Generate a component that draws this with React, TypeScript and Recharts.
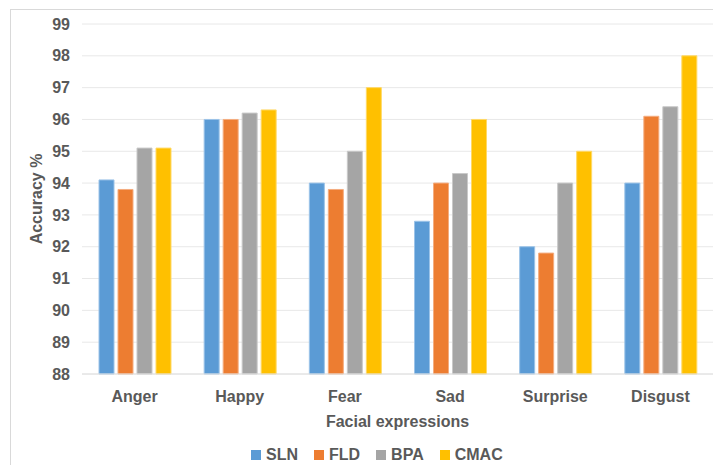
import React from 'react';
import { BarChart, Bar, XAxis, YAxis, CartesianGrid, Legend } from 'recharts';

const categories = ['Anger', 'Happy', 'Fear', 'Sad', 'Surprise', 'Disgust'];
const slnValues = [94.1, 96.0, 94.0, 92.8, 92.0, 94.0];
const fldValues = [93.8, 96.0, 93.8, 94.0, 91.8, 96.1];
const bpaValues = [95.1, 96.2, 95.0, 94.3, 94.0, 96.4];
const cmacValues = [95.1, 96.3, 97.0, 96.0, 95.0, 98.0];
const yTicks = [88, 89, 90, 91, 92, 93, 94, 95, 96, 97, 98, 99];

const seriesNames = ['SLN', 'FLD', 'BPA', 'CMAC'];
const seriesColors = ['#5B9BD5', '#ED7D31', '#A5A5A5', '#FFC000'];
const seriesStrokes = ['#9cc3e8', '#f4ad80', '#c9c9c9', '#ffd966'];

const data = categories.map((name, i) => ({
  name,
  SLN: slnValues[i],
  FLD: fldValues[i],
  BPA: bpaValues[i],
  CMAC: cmacValues[i],
}));

const FONT = '"Liberation Sans", Arial, sans-serif';
const TEXT = '#595959';

const renderLegend = () => (
  <div style={{ height: 30, boxSizing: 'border-box', paddingTop: 9, paddingLeft: 251, display: 'flex', alignItems: 'center', fontFamily: FONT, fontSize: 16, fontWeight: 700, color: TEXT, lineHeight: '18px' }}>
    {seriesNames.map((n, i) => (
      <div key={n} style={{ display: 'flex', alignItems: 'center', marginRight: 16 }}>
        <span style={{ display: 'inline-block', width: 10, height: 10, background: seriesColors[i], marginRight: 5 }} />
        <span>{n}</span>
      </div>
    ))}
  </div>
);

export default function App() {
  return (
    <div style={{ position: 'fixed', left: 0, top: 0, width: 713, height: 465, overflow: 'hidden', background: '#fff' }}>
      <div style={{ position: 'absolute', left: 10, top: 9, width: 900, height: 700, border: '1px solid #d9d9d9' }} />
      <div style={{ position: 'absolute', left: 0, top: 0 }}>
        <BarChart
          width={713}
          height={465}
          data={data}
          margin={{ top: 24, right: 0, left: 0, bottom: 0 }}
          barSize={15}
          barGap={4}
        >
          <CartesianGrid vertical={false} stroke="#e8e8e8" strokeWidth={1} />
          <XAxis
            dataKey="name"
            height={61}
            tickLine={false}
            axisLine={{ stroke: '#e0e0e0' }}
            tickMargin={11}
            tick={{ fill: TEXT, fontSize: 16, fontWeight: 700, fontFamily: FONT }}
            label={{ value: 'Facial expressions', position: 'insideBottom', offset: 8, fill: TEXT, fontSize: 16, fontWeight: 700, fontFamily: FONT }}
          />
          <YAxis
            width={82}
            domain={[88, 99]}
            ticks={yTicks}
            interval={0}
            tickLine={false}
            axisLine={false}
            tickMargin={6}
            tick={{ fill: TEXT, fontSize: 16, fontWeight: 700, fontFamily: FONT }}
            label={{ value: 'Accuracy %', angle: -90, position: 'insideLeft', offset: 36, fill: TEXT, fontSize: 16, fontWeight: 700, fontFamily: FONT, style: { textAnchor: 'middle' } }}
          />
          <Legend verticalAlign="bottom" align="left" content={renderLegend} wrapperStyle={{ left: 0, width: 713, height: 30 }} />
          {seriesNames.map((n, i) => (
            <Bar key={n} dataKey={n} fill={seriesColors[i]} stroke={seriesStrokes[i]} strokeWidth={1} isAnimationActive={false} />
          ))}
        </BarChart>
      </div>
    </div>
  );
}
